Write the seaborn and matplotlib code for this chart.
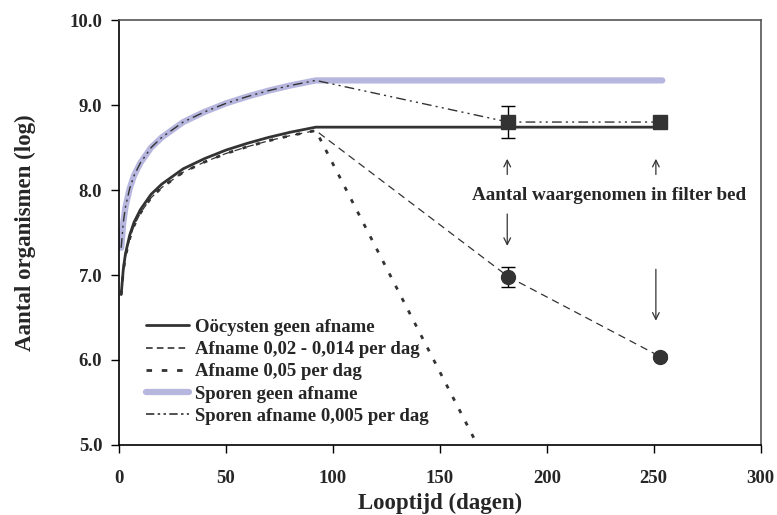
import matplotlib
matplotlib.use("Agg")
import matplotlib.pyplot as plt
import seaborn as sns
import pandas as pd
from matplotlib.lines import Line2D

# ---- data ----
growth_days = [1, 2, 3, 5, 7, 10, 15, 20, 30, 40, 50, 60, 70, 80, 92]
oocysten_growth = [6.77, 7.07, 7.25, 7.47, 7.62, 7.77, 7.95, 8.07, 8.25, 8.37, 8.47, 8.55, 8.62, 8.68, 8.74]
afname_growth = [6.77, 7.05, 7.22, 7.43, 7.58, 7.73, 7.91, 8.03, 8.21, 8.33, 8.43, 8.51, 8.58, 8.64, 8.70]
sporen_growth = [7.32, 7.62, 7.80, 8.02, 8.17, 8.32, 8.50, 8.62, 8.80, 8.92, 9.02, 9.10, 9.17, 9.23, 9.29]

ooc_tail_days = [253]
ooc_tail = [8.74]
afn1_tail_days = [182, 253]
afn1_tail = [6.98, 6.04]
afn2_tail_days = [170]
afn2_tail = [4.88]
spo_tail_days = [254]
spo_tail = [9.29]
spo_afn_tail_days = [182, 253]
spo_afn_tail = [8.80, 8.80]

obs_days = [182, 253]
obs_sporen = [8.80, 8.80]
obs_sporen_err = [0.19, 0.0]
obs_oocysten = [6.98, 6.04]
obs_oocysten_err = [0.12, 0.03]

legend_labels = ["Oöcysten geen afname", "Afname 0,02 - 0,014 per dag",
                 "Afname 0,05 per dag", "Sporen geen afname",
                 "Sporen afname 0,005 per dag"]
x_ticks = [0, 50, 100, 150, 200, 250, 300]
y_ticks = [5.0, 6.0, 7.0, 8.0, 9.0, 10.0]

sns.set_style("white")
plt.rcParams["font.family"] = ["Liberation Serif", "DejaVu Serif"]
plt.rcParams["font.weight"] = "bold"

fig = plt.figure(figsize=(7.77, 5.15), dpi=100)
ax = fig.add_axes([0.1532, 0.136, 0.8258, 0.825])

dark = "#333333"
lav = "#b6b6de"

def series(days, vals):
    return pd.DataFrame({"x": days, "y": vals})

# Sporen geen afname (thick lavender)
sns.lineplot(data=series(growth_days + spo_tail_days, sporen_growth + spo_tail),
             x="x", y="y", ax=ax, color=lav, lw=4.5, sort=False, estimator=None)
# Sporen afname
sns.lineplot(data=series(growth_days + spo_afn_tail_days, sporen_growth + spo_afn_tail),
             x="x", y="y", ax=ax, color=dark, lw=1.0, sort=False, estimator=None)
ax.lines[-1].set_dashes([7, 3, 1.5, 3, 1.5, 3])
# Afname 0,05 (thick dotted)
sns.lineplot(data=series(growth_days + afn2_tail_days, afname_growth + afn2_tail),
             x="x", y="y", ax=ax, color=dark, lw=2.0, sort=False, estimator=None)
ax.lines[-1].set_dashes([1.5, 3.5])
# Afname 0,02 - 0,014 (thin dashed)
sns.lineplot(data=series(growth_days + afn1_tail_days, afname_growth + afn1_tail),
             x="x", y="y", ax=ax, color=dark, lw=0.9, sort=False, estimator=None)
ax.lines[-1].set_dashes([6, 4])
# Oöcysten geen afname (solid)
sns.lineplot(data=series(growth_days + ooc_tail_days, oocysten_growth + ooc_tail),
             x="x", y="y", ax=ax, color=dark, lw=2.0, sort=False, estimator=None)

# observations
ax.errorbar(obs_days, obs_sporen, yerr=obs_sporen_err, fmt="s", color=dark,
            ms=10, capsize=5, elinewidth=1, ecolor="black", zorder=5)
ax.errorbar(obs_days, obs_oocysten, yerr=obs_oocysten_err, fmt="o", color=dark,
            ms=10, capsize=5, elinewidth=1, ecolor="black", zorder=5)

# annotation
ax.text(229, 7.93, "Aantal waargenomen in filter bed", ha="center", va="center",
        fontsize=13.8, fontweight="bold")
arrow_kw = dict(arrowstyle="->", color="#333333", lw=0.9, mutation_scale=12)
ax.annotate("", xy=(181.5, 8.40), xytext=(181.5, 8.15), arrowprops=arrow_kw)
ax.annotate("", xy=(251, 8.40), xytext=(251, 8.15), arrowprops=arrow_kw)
ax.annotate("", xy=(181.5, 7.31), xytext=(181.5, 7.75), arrowprops=arrow_kw)
ax.annotate("", xy=(251, 6.43), xytext=(251, 7.10), arrowprops=arrow_kw)

ax.set_xlim(0, 300)
ax.set_ylim(5.0, 10.0)
ax.set_xticks(x_ticks)
ax.set_yticks(y_ticks)
ax.set_xticklabels([str(t) for t in x_ticks], fontsize=13.5, fontweight="bold")
ax.set_yticklabels([f"{t:.1f}" for t in y_ticks], fontsize=13.5, fontweight="bold")
ax.tick_params(axis="both", direction="out", length=6, width=1, color="black",
               bottom=True, left=True, pad=6)
ax.tick_params(axis="x", pad=12)
ax.set_xlabel("Looptijd (dagen)", fontsize=16.5, fontweight="bold", labelpad=4)
ax.set_ylabel("Aantal organismen (log)", fontsize=16.5, fontweight="bold", labelpad=24)

for s in ["left", "bottom"]:
    ax.spines[s].set_color("black")
    ax.spines[s].set_linewidth(1.2)
for s in ["top", "right"]:
    ax.spines[s].set_color("#555555")
    ax.spines[s].set_linewidth(1.2)

handles = [
    Line2D([], [], color=dark, lw=2.0),
    Line2D([], [], color=dark, lw=1.2, dashes=[4, 2.5]),
    Line2D([], [], color=dark, lw=2.0, dashes=[2, 3.5]),
    Line2D([], [], color=lav, lw=4.5),
    Line2D([], [], color=dark, lw=1.2, dashes=[5, 2, 1.5, 2, 1.5, 2]),
]
leg = ax.legend(handles, legend_labels, loc="lower left", bbox_to_anchor=(0.03, 0.03),
                frameon=False, prop={"weight": "bold", "size": 13.5},
                handlelength=2.3, handletextpad=0.3, labelspacing=0.27,
                borderaxespad=0)

fig.savefig("out.png", dpi=100)
